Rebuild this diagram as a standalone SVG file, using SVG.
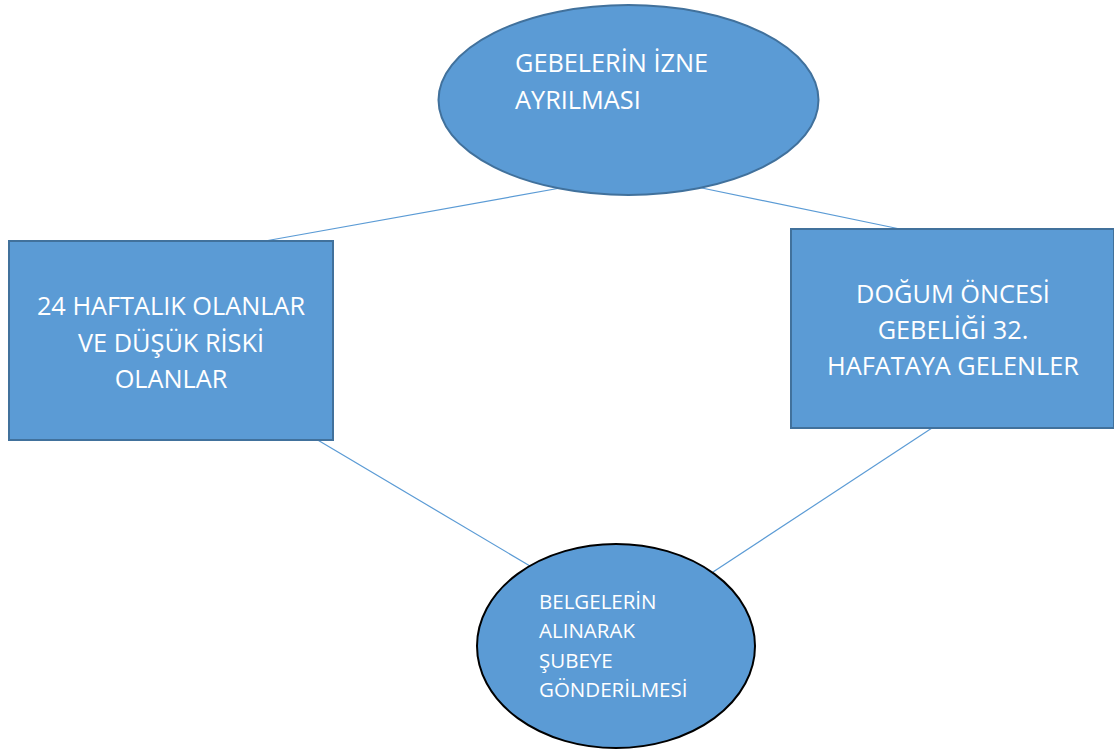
<svg xmlns="http://www.w3.org/2000/svg" width="1114" height="749" viewBox="0 0 1114 749">
  <style>
    .node { fill: #5b9bd5; }
    .edge { stroke: #5b9bd5; stroke-width: 1.2; fill: none; }
    .lbl { font-family: "Open Sans", "Liberation Sans", sans-serif; fill: #ffffff; }
    .big { font-size: 25.3px; }
    .small { font-size: 20.5px; }
  </style>
  <rect width="1114" height="749" fill="#ffffff"/>
  <g id="connectors">
    <line class="edge" x1="265" y1="241" x2="566" y2="187"/>
    <line class="edge" x1="697" y1="187" x2="900" y2="229"/>
    <line class="edge" x1="316" y1="439" x2="530" y2="566"/>
    <line class="edge" x1="932" y1="428" x2="713" y2="572"/>
  </g>
  <g id="node-izin">
    <ellipse class="node" cx="628.5" cy="100" rx="190" ry="95" stroke="#41719c" stroke-width="2"/>
    <text class="lbl big" x="515" y="72">GEBELERİN İZNE</text>
    <text class="lbl big" x="515" y="109">AYRILMASI</text>
  </g>
  <g id="node-24hafta">
    <rect class="node" x="9" y="241" width="324" height="199" stroke="#41719c" stroke-width="2"/>
    <text class="lbl big" text-anchor="middle" x="171" y="315">24 HAFTALIK OLANLAR</text>
    <text class="lbl big" text-anchor="middle" x="171" y="352">VE DÜŞÜK RİSKİ</text>
    <text class="lbl big" text-anchor="middle" x="171" y="388">OLANLAR</text>
  </g>
  <g id="node-32hafta">
    <rect class="node" x="791" y="229" width="323" height="199" stroke="#41719c" stroke-width="2"/>
    <text class="lbl big" text-anchor="middle" x="953" y="303">DOĞUM ÖNCESİ</text>
    <text class="lbl big" text-anchor="middle" x="953" y="339">GEBELİĞİ 32.</text>
    <text class="lbl big" text-anchor="middle" x="953" y="375">HAFATAYA GELENLER</text>
  </g>
  <g id="node-belgeler">
    <ellipse class="node" cx="616" cy="646" rx="139" ry="102" stroke="#000000" stroke-width="2"/>
    <text class="lbl small" x="539" y="609">BELGELERİN</text>
    <text class="lbl small" x="539" y="638">ALINARAK</text>
    <text class="lbl small" x="539" y="668">ŞUBEYE</text>
    <text class="lbl small" x="539" y="697">GÖNDERİLMESİ</text>
  </g>
</svg>
